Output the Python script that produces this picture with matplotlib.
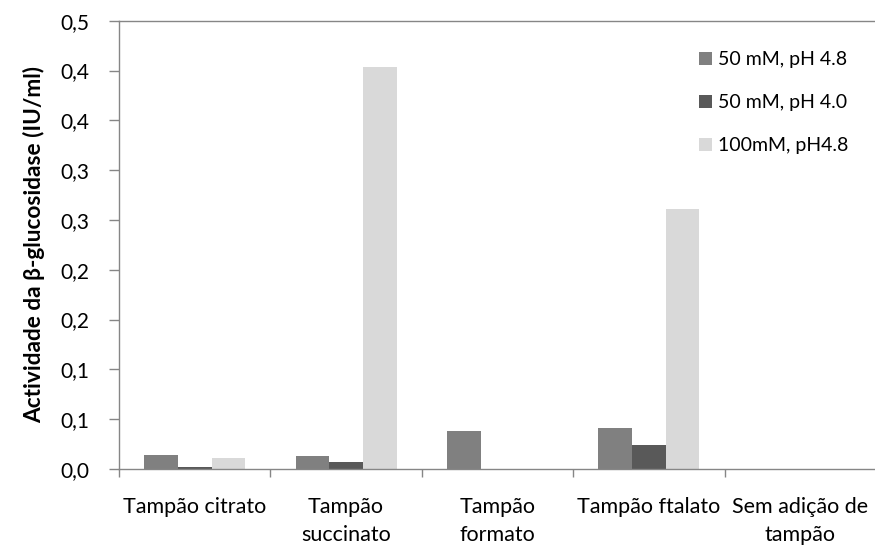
import numpy as np
import matplotlib
matplotlib.use('Agg')
import matplotlib.pyplot as plt

plt.rcParams['font.family'] = ['Lato', 'DejaVu Sans']

# Buffer types and measured activity for each buffer condition
tampoes = ['Tampão citrato', 'Tampão\nsuccinato', 'Tampão\nformato',
           'Tampão ftalato', 'Sem adição de\ntampão']
ph48_50mm = [0.0141, 0.0134, 0.0382, 0.0412, 0.0]
ph40_50mm = [0.0020, 0.0067, 0.0, 0.0241, 0.0]
ph48_100mm = [0.0113, 0.4033, 0.0, 0.2610, 0.0]

series_names = ['50 mM, pH 4.8', '50 mM, pH 4.0', '100mM, pH4.8']
series_colors = ['#808080', '#595959', '#d9d9d9']

y_ticks = [0.0, 0.05, 0.10, 0.15, 0.20, 0.25, 0.30, 0.35, 0.40, 0.45]
y_tick_labels = ['0,0', '0,1', '0,1', '0,2', '0,2', '0,3', '0,3', '0,4', '0,4', '0,5']

axis_grey = '#868686'

fig = plt.figure(figsize=(8.75, 5.47), dpi=100)
ax = fig.add_axes([119 / 875, 1 - 469 / 547, 757 / 875, (469 - 20.7) / 547])

x = np.arange(len(tampoes))
w = 1 / 4.5
for k, (vals, name, col) in enumerate(zip([ph48_50mm, ph40_50mm, ph48_100mm],
                                          series_names, series_colors)):
    ax.bar(x + (k - 1) * w, vals, width=w, color=col, label=name, zorder=2)

ax.set_xlim(-0.5, len(tampoes) - 0.5)
ax.set_ylim(0, 0.45)

ax.set_yticks(y_ticks)
ax.set_yticklabels(y_tick_labels, fontsize=15)
ax.tick_params(axis='y', length=7, width=1, color=axis_grey, pad=14)

ax.set_xticks(x)
ax.set_xticklabels(tampoes, fontsize=15.5, linespacing=1.5)
ax.set_xticks(np.arange(-0.5, len(tampoes)), minor=True)
ax.tick_params(axis='x', which='major', length=0, pad=20)
ax.tick_params(axis='x', which='minor', length=6, width=1, color=axis_grey)

for side in ['left', 'bottom', 'top']:
    ax.spines[side].set_color(axis_grey)
    ax.spines[side].set_linewidth(1)
ax.spines['right'].set_visible(False)

ax.set_ylabel('Actividade da β-glucosidase (IU/ml)', fontsize=16.3,
              fontweight='bold', labelpad=11)

ax.legend(loc='upper left', bbox_to_anchor=(699 / 875, 1 - 51 / 547),
          bbox_transform=fig.transFigure, frameon=False, fontsize=14,
          handlelength=0.65, handleheight=0.65, handletextpad=0.35,
          labelspacing=1.35, borderpad=0, borderaxespad=0)

fig.savefig('out.png', dpi=100)
